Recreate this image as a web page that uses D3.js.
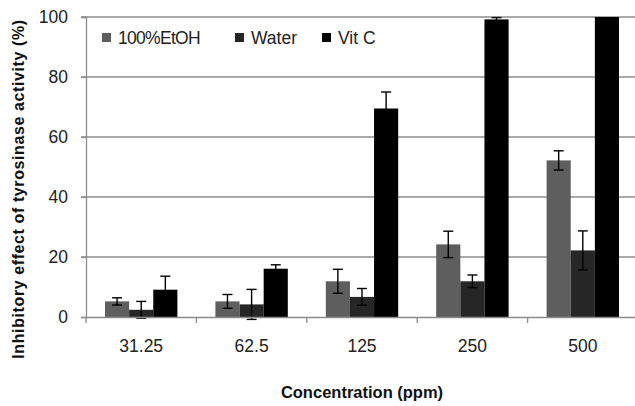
<!DOCTYPE html>
<html>
<head>
<meta charset="utf-8">
<script src="https://cdn.jsdelivr.net/npm/d3@7"></script>
<style>
  body { margin: 0; background: #fff; }
  text { font-family: "Liberation Sans", Arial, sans-serif; }
</style>
</head>
<body>
<div id="chart"></div>
<script>
/* ---------- Dados ---------- */
const concentrations = ['31.25', '62.5', '125', '250', '500'];
const seriesNames    = ['100%EtOH', 'Water', 'Vit C'];
const etohVals  = [5.2, 5.2, 11.9, 24.2, 52.2];
const etohErr   = [1.2, 2.3, 4.0, 4.4, 3.2];
const waterVals = [2.4, 4.2, 6.7, 11.9, 22.2];
const waterErr  = [2.8, 5.0, 2.8, 2.1, 6.5];
const vitcVals  = [9.1, 16.1, 69.5, 99.2, 100];
const vitcErr   = [4.5, 1.3, 5.5, 0.6, 0];
const yTicks    = [0, 20, 40, 60, 80, 100];
const colors    = ['#5e5e5e', '#262626', '#000000'];

const series = [
  { name: seriesNames[0], vals: etohVals,  err: etohErr },
  { name: seriesNames[1], vals: waterVals, err: waterErr },
  { name: seriesNames[2], vals: vitcVals,  err: vitcErr }
];

/* ---------- Área ---------- */
const W = 635, H = 406;
const m = { left: 86, top: 17, right: -3, bottom: 89 };

const svg = d3.select('#chart').append('svg')
  .attr('width', W).attr('height', H);

const x = d3.scaleBand()
  .domain(concentrations)
  .range([m.left, W - m.right]);

const xs = d3.scaleBand()
  .domain(seriesNames)
  .range([19, x.bandwidth() - 19]);

const y = d3.scaleLinear()
  .domain([0, 100])
  .range([H - m.bottom, m.top]);

/* ---------- Grade e eixos ---------- */
const grid = svg.append('g');
grid.selectAll('line').data(yTicks.slice(1)).enter()
  .append('line')
  .attr('x1', m.left - 5).attr('x2', W)
  .attr('y1', d => y(d)).attr('y2', d => y(d))
  .attr('stroke', '#8c8c8c').attr('stroke-width', 1.3);

svg.append('g')
  .attr('transform', `translate(${m.left},0)`)
  .call(d3.axisLeft(y).tickValues(yTicks).tickSize(5).tickPadding(13))
  .call(g => g.select('.domain').attr('stroke', '#8c8c8c').attr('stroke-width', 1.3))
  .call(g => g.selectAll('.tick line').attr('stroke', '#8c8c8c').attr('stroke-width', 1.3))
  .call(g => g.selectAll('.tick text').attr('font-size', 17.5).attr('fill', '#222'));

/* ---------- Barras ---------- */
const groups = svg.append('g').selectAll('g')
  .data(concentrations).enter()
  .append('g')
  .attr('transform', d => `translate(${x(d)},0)`);

groups.each(function (c, i) {
  const g = d3.select(this);
  series.forEach((s, k) => {
    g.append('rect')
      .attr('x', xs(s.name))
      .attr('width', xs.bandwidth())
      .attr('y', y(s.vals[i]))
      .attr('height', y(0) - y(s.vals[i]))
      .attr('fill', colors[k]);
  });
  series.forEach(s => {
    if (!s.err[i]) return;
    const cx = xs(s.name) + xs.bandwidth() / 2;
    const hi = y(Math.min(100, s.vals[i] + s.err[i]));
    const lo = y(s.vals[i] - s.err[i]);
    g.append('line').attr('x1', cx).attr('x2', cx).attr('y1', hi).attr('y2', lo)
      .attr('stroke', '#000').attr('stroke-width', 1.4);
    [hi, lo].forEach(yy => g.append('line')
      .attr('x1', cx - 5).attr('x2', cx + 5).attr('y1', yy).attr('y2', yy)
      .attr('stroke', '#000').attr('stroke-width', 1.4));
  });
});

/* eixo x por cima das barras */
svg.append('g')
  .attr('transform', `translate(0,${y(0)})`)
  .call(d3.axisBottom(x).tickSize(0).tickPadding(23))
  .call(g => g.select('.domain').attr('stroke', '#8c8c8c').attr('stroke-width', 1.3))
  .call(g => g.selectAll('.tick text').attr('font-size', 17.5).attr('fill', '#222'));

svg.append('g').selectAll('line')
  .data(concentrations).enter()
  .append('line')
  .attr('x1', d => x(d)).attr('x2', d => x(d))
  .attr('y1', y(0)).attr('y2', y(0) + 6)
  .attr('stroke', '#8c8c8c').attr('stroke-width', 1.3);

/* ---------- Legenda ---------- */
const legX = [102, 235, 322];
const leg = svg.append('g');
series.forEach((s, k) => {
  leg.append('rect')
    .attr('x', legX[k]).attr('y', 33).attr('width', 9).attr('height', 9)
    .attr('fill', colors[k]);
  leg.append('text')
    .attr('x', legX[k] + 16).attr('y', 44)
    .attr('font-size', 17.5).attr('fill', '#222')
    .attr('letter-spacing', k === 0 ? -0.7 : 0)
    .text(s.name);
});

/* ---------- Títulos ---------- */
svg.append('text')
  .attr('transform', 'translate(24,189) rotate(-90)')
  .attr('text-anchor', 'middle')
  .attr('font-size', 16).attr('font-weight', 'bold').attr('fill', '#111')
  .attr('letter-spacing', 0.6)
  .text('Inhibitory effect of tyrosinase activity  (%)');

svg.append('text')
  .attr('x', 362).attr('y', 398)
  .attr('text-anchor', 'middle')
  .attr('font-size', 16.5).attr('font-weight', 'bold').attr('fill', '#111')
  .text('Concentration (ppm)');
</script>
</body>
</html>
